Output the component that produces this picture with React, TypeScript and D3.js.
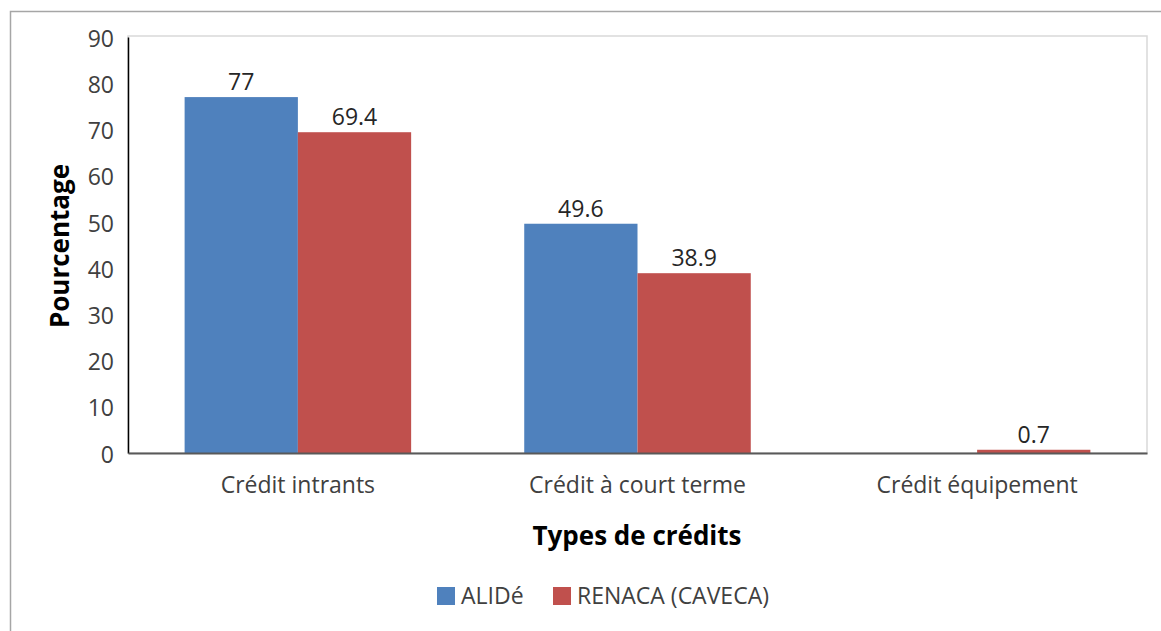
import React, { useRef, useEffect } from "react";
import * as d3 from "d3";

const categories = ["Crédit intrants", "Crédit à court terme", "Crédit équipement"];
const seriesNames = ["ALIDé", "RENACA (CAVECA)"];
const alide = [77, 49.6, null];
const renaca = [69.4, 38.9, 0.7];
const yTicks = [0, 10, 20, 30, 40, 50, 60, 70, 80, 90];
const colors = ["#4F81BD", "#C0504D"];

const W = 1161;
const H = 631;
const FONT = "'Open Sans', 'DejaVu Sans', sans-serif";
const FS = 23;

const App = () => {
  const ref = useRef<SVGSVGElement>(null);

  useEffect(() => {
    const svg = d3.select(ref.current);
    svg.selectAll("*").remove();

    const left = 128, right = 1147, top = 37, bottom = 453;

    // outer frame
    svg.append("rect")
      .attr("x", 10.5).attr("y", 11.5)
      .attr("width", W + 20).attr("height", H + 20)
      .attr("fill", "white").attr("stroke", "#a6a6a6").attr("stroke-width", 1.5);

    // plot frame
    svg.append("rect")
      .attr("x", left).attr("y", top - 1)
      .attr("width", right - left).attr("height", bottom - top + 1)
      .attr("fill", "none").attr("stroke", "#d9d9d9").attr("stroke-width", 1.5);

    const x0 = d3.scaleBand<string>()
      .domain(categories)
      .range([left, right])
      .paddingInner(0.333)
      .paddingOuter(0.1667);
    const x1 = d3.scaleBand<string>()
      .domain(seriesNames)
      .range([0, x0.bandwidth()]);
    const y = d3.scaleLinear().domain([0, 90]).range([bottom, top]);

    const rows = categories.map((c, i) => ({ cat: c, vals: [alide[i], renaca[i]] }));

    const g = svg.append("g");
    rows.forEach((r) => {
      r.vals.forEach((v, si) => {
        if (v == null) return;
        const bx = (x0(r.cat) as number) + (x1(seriesNames[si]) as number);
        g.append("rect")
          .attr("x", bx).attr("y", y(v))
          .attr("width", x1.bandwidth())
          .attr("height", Math.max(y(0) - y(v), 0))
          .attr("fill", colors[si]);
        g.append("text")
          .attr("x", bx + x1.bandwidth() / 2)
          .attr("y", y(v) - 7)
          .attr("text-anchor", "middle")
          .attr("font-family", FONT).attr("font-size", FS)
          .attr("fill", "#262626")
          .text(String(v));
      });
    });

    // y axis
    const yAxis = svg.append("g")
      .attr("transform", `translate(${left},0)`)
      .call(d3.axisLeft(y).tickValues(yTicks).tickSize(0).tickPadding(14));
    yAxis.select(".domain").attr("stroke", "#000").attr("stroke-width", 1.5);
    yAxis.selectAll("text")
      .attr("font-family", FONT).attr("font-size", FS)
      .attr("fill", "#404040").attr("dy", "0.4em");

    // x axis
    const xAxis = svg.append("g")
      .attr("transform", `translate(0,${bottom})`)
      .call(d3.axisBottom(x0).tickSize(0).tickPadding(24));
    xAxis.select(".domain").attr("stroke", "#595959").attr("stroke-width", 2);
    xAxis.selectAll("text")
      .attr("font-family", FONT).attr("font-size", FS)
      .attr("fill", "#404040");

    // axis titles
    svg.append("text")
      .attr("x", 637).attr("y", 545)
      .attr("text-anchor", "middle")
      .attr("font-family", FONT).attr("font-size", 26).attr("font-weight", "bold")
      .attr("fill", "#000")
      .text("Types de crédits");
    svg.append("text")
      .attr("transform", "translate(69,246) rotate(-90)")
      .attr("text-anchor", "middle")
      .attr("font-family", FONT).attr("font-size", 26).attr("font-weight", "bold")
      .attr("fill", "#000")
      .text("Pourcentage");

    // legend
    const legendX = [437, 553];
    seriesNames.forEach((s, i) => {
      svg.append("rect")
        .attr("x", legendX[i]).attr("y", 587)
        .attr("width", 18).attr("height", 18)
        .attr("fill", colors[i]);
      svg.append("text")
        .attr("x", legendX[i] + 24).attr("y", 604)
        .attr("font-family", FONT).attr("font-size", FS)
        .attr("fill", "#404040")
        .text(s);
    });
  }, []);

  return (
    <div style={{ position: "fixed", left: 0, top: 0 }}>
      <svg ref={ref} width={W} height={H} style={{ display: "block" }} />
    </div>
  );
};

export default App;
